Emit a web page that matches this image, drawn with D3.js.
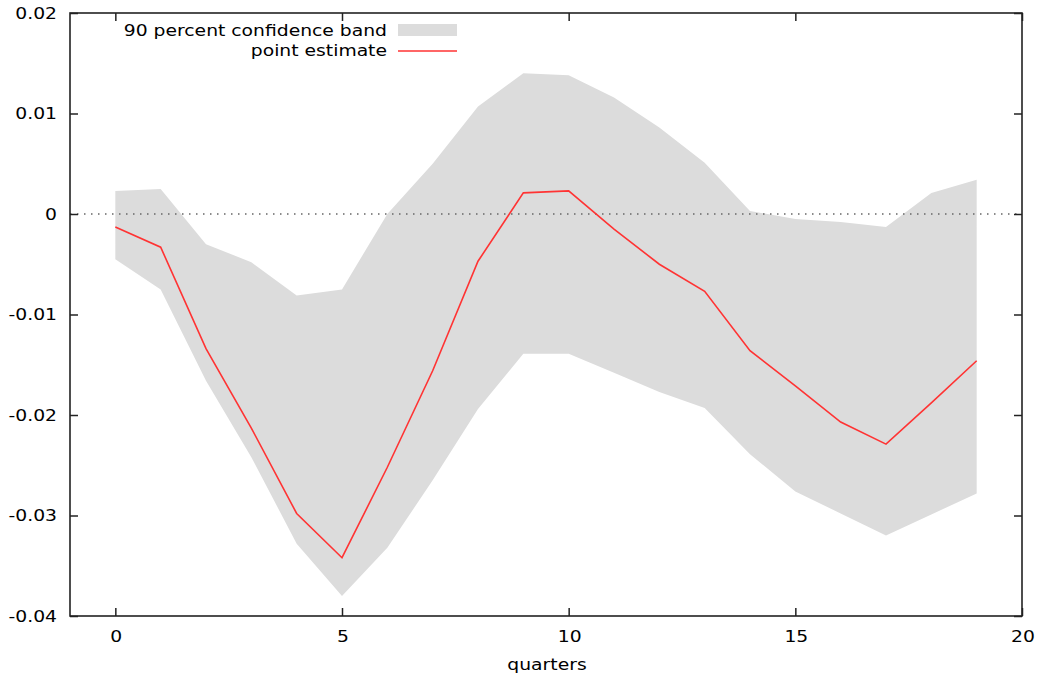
<!DOCTYPE html>
<html><head><meta charset="utf-8">
<script src="https://cdn.jsdelivr.net/npm/d3@7"></script>
<style>body{margin:0;background:#fff}svg{display:block}</style>
</head><body>
<svg id="c" width="1043" height="674"></svg>
<script>
const quarters = [0,1,2,3,4,5,6,7,8,9,10,11,12,13,14,15,16,17,18,19];
const pointEstimate = [-0.0013,-0.0033,-0.0134,-0.0213,-0.0298,-0.0342,-0.0252,-0.0156,-0.0047,0.0021,0.0023,-0.0015,-0.0050,-0.0077,-0.0136,-0.0171,-0.0207,-0.0229,-0.0188,-0.0146];
const bandUpper = [0.0023,0.0025,-0.0030,-0.0048,-0.0081,-0.0075,0.0000,0.0050,0.0107,0.0140,0.0138,0.0116,0.0086,0.0051,0.0003,-0.0005,-0.0008,-0.0013,0.0021,0.0034];
const bandLower = [-0.0045,-0.0075,-0.0166,-0.0242,-0.0328,-0.0380,-0.0332,-0.0265,-0.0194,-0.0139,-0.0139,-0.0158,-0.0177,-0.0193,-0.0239,-0.0276,-0.0298,-0.0320,-0.0299,-0.0278];
const xTicks = [0,5,10,15,20];
const yTicks = [-0.04,-0.03,-0.02,-0.01,0,0.01,0.02];
const yTickLabels = ["-0.04","-0.03","-0.02","-0.01","0","0.01","0.02"];
const legendLabels = ["90 percent confidence band","point estimate"];
const xTitle = "quarters";

const L=70,R=1022,T=13,B=616;
const FS=15.5, SX=1.21, FONT='"DejaVu Sans", Verdana, sans-serif';
const svg=d3.select("#c");
const x=d3.scaleLinear().domain([-1,20]).range([L,R]);
const y=d3.scaleLinear().domain([-0.04,0.02]).range([B,T]);

function txt(px,py,s,anchor){
  const g=svg.append("g").attr("transform",`translate(${px},${py}) scale(${SX},1)`);
  g.append("text").attr("text-anchor",anchor).attr("font-family",FONT).attr("font-size",FS).attr("fill","#000").text(s);
}

// band
const data=quarters.map((q,i)=>({q,lo:bandLower[i],hi:bandUpper[i],v:pointEstimate[i]}));
svg.append("path").datum(data).attr("fill","#dcdcdc")
  .attr("d",d3.area().x(d=>x(d.q)).y0(d=>y(d.lo)).y1(d=>y(d.hi)));
// zero line
svg.append("line").attr("x1",L).attr("x2",R).attr("y1",y(0)).attr("y2",y(0))
  .attr("stroke","#666").attr("stroke-width",1.3).attr("stroke-dasharray","1.5,5.5");
// estimate
svg.append("path").datum(data).attr("fill","none").attr("stroke","#ff3333").attr("stroke-width",1.6)
  .attr("d",d3.line().x(d=>x(d.q)).y(d=>y(d.v)));

// axes with inward ticks
const tl=8;
const axB=svg.append("g").attr("transform",`translate(0,${B})`).call(d3.axisBottom(x).tickValues(xTicks).tickSizeInner(-tl).tickSizeOuter(0).tickFormat(""));
const axT=svg.append("g").attr("transform",`translate(0,${T})`).call(d3.axisTop(x).tickValues(xTicks).tickSizeInner(-tl).tickSizeOuter(0).tickFormat(""));
const axL=svg.append("g").attr("transform",`translate(${L},0)`).call(d3.axisLeft(y).tickValues(yTicks).tickSizeInner(-tl).tickSizeOuter(0).tickFormat(""));
const axR=svg.append("g").attr("transform",`translate(${R},0)`).call(d3.axisRight(y).tickValues(yTicks).tickSizeInner(-tl).tickSizeOuter(0).tickFormat(""));
[axB,axT,axL,axR].forEach(a=>{a.select(".domain").remove();a.selectAll("line").attr("stroke","#222").attr("stroke-width",1.5);});
svg.append("rect").attr("x",L).attr("y",T).attr("width",R-L).attr("height",B-T)
  .attr("fill","none").attr("stroke","#222").attr("stroke-width",1.6);

// tick labels
yTicks.forEach((t,i)=>txt(57,y(t)+5.5,yTickLabels[i],"end"));
xTicks.forEach(t=>txt(x(t)+1,B+25.5,String(t),"middle"));
txt((L+R)/2+1,670,xTitle,"middle");

// legend
txt(387,35.5,legendLabels[0],"end");
txt(387,56,legendLabels[1],"end");
svg.append("rect").attr("x",398).attr("y",24).attr("width",59).attr("height",12).attr("fill","#dcdcdc");
svg.append("line").attr("x1",398).attr("x2",457).attr("y1",51).attr("y2",51).attr("stroke","#ff3333").attr("stroke-width",1.6);
</script>
</body></html>
